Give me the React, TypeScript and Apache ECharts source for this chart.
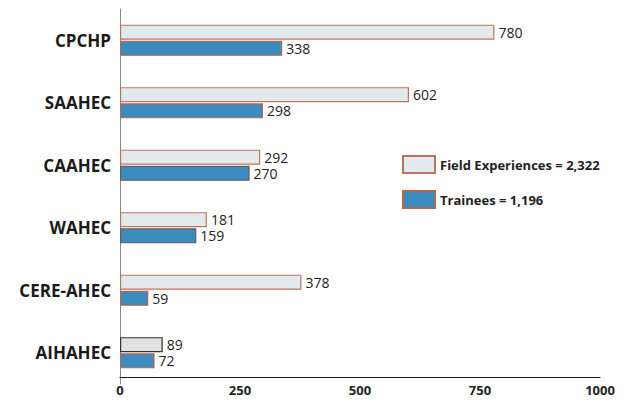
import React, { useEffect, useRef } from "react";
import * as echarts from "echarts";

const categories = ["CPCHP", "SAAHEC", "CAAHEC", "WAHEC", "CERE-AHEC", "AIHAHEC"];
const fieldExperiences = [780, 602, 292, 181, 378, 89];
const trainees = [338, 298, 270, 159, 59, 72];
const xTicks = [0, 250, 500, 750, 1000];

const FONT = "'Open Sans', 'Noto Sans', sans-serif";

export default function App() {
  const ref = useRef<HTMLDivElement>(null);
  useEffect(() => {
    if (!ref.current) return;
    const chart = echarts.init(ref.current, undefined, { renderer: "svg" });
    const fieldTotal = fieldExperiences.reduce((a, b) => a + b, 0);
    const traineeTotal = trainees.reduce((a, b) => a + b, 0);
    const fieldName = `Field Experiences = ${fieldTotal.toLocaleString("en-US")}`;
    const traineeName = `Trainees = ${traineeTotal.toLocaleString("en-US")}`;
    const lastIdx = categories.length - 1;
    chart.setOption({
      animation: false,
      backgroundColor: "#ffffff",
      grid: { left: 120, right: 30, top: 9, bottom: 19, containLabel: false },
      legend: {
        orient: "vertical",
        left: 397,
        top: 150,
        itemWidth: 32,
        itemHeight: 17,
        itemGap: 16,
        icon: "rect",
        textStyle: { fontFamily: FONT, fontWeight: "bold", fontSize: 13, color: "#222" },
        data: [fieldName, traineeName],
      },
      xAxis: {
        type: "value",
        min: xTicks[0],
        max: xTicks[xTicks.length - 1],
        interval: xTicks[1] - xTicks[0],
        offset: -7,
        axisLine: { show: true, lineStyle: { color: "#111", width: 1 } },
        axisTick: { show: false },
        splitLine: { show: false },
        axisLabel: {
          fontFamily: FONT,
          fontWeight: "bold",
          fontSize: 13,
          color: "#222",
          margin: 6,
          formatter: (v: number) => String(v),
        },
      },
      yAxis: {
        type: "category",
        inverse: true,
        data: categories,
        axisLine: { show: true, lineStyle: { color: "#888", width: 1 } },
        axisTick: { show: false },
        axisLabel: { fontFamily: FONT, fontWeight: "bold", fontSize: 17, color: "#1a1a1a", margin: 9 },
      },
      series: [
        {
          name: fieldName,
          type: "bar",
          barWidth: 15,
          barGap: "8%",
          itemStyle: { color: "#E3EAED", borderColor: "#C0735C", borderWidth: 1.2 },
          label: {
            show: true,
            position: "right",
            distance: 4,
            fontFamily: FONT,
            fontSize: 14,
            color: "#222",
          },
          data: fieldExperiences.map((v, i) =>
            i === lastIdx
              ? { value: v, itemStyle: { color: "#E1E2E4", borderColor: "#333", borderWidth: 1.2 } }
              : v
          ),
        },
        {
          name: traineeName,
          type: "bar",
          barWidth: 15,
          barGap: "8%",
          itemStyle: { color: "#3A8BBE", borderColor: "#B8654B", borderWidth: 1.2 },
          label: {
            show: true,
            position: "right",
            distance: 4,
            fontFamily: FONT,
            fontSize: 14,
            color: "#222",
          },
          data: trainees.map((v, i) =>
            i === 2 || i === 3
              ? { value: v, itemStyle: { color: "#3A8BBE", borderColor: "#6E5A55", borderWidth: 1.2 } }
              : v
          ),
        },
      ],
    });
    return () => chart.dispose();
  }, []);
  return <div ref={ref} style={{ width: 630, height: 403, position: "absolute", left: 0, top: 0 }} />;
}
